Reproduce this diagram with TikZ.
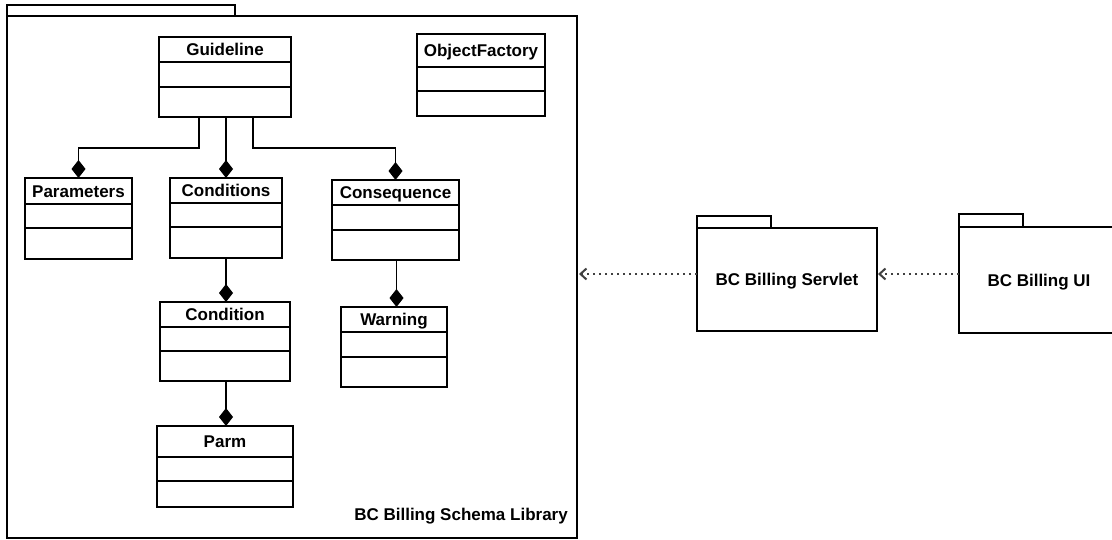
\documentclass[tikz,border=0pt]{standalone}
\usepackage{fontspec}
\setmainfont{Liberation Sans}
\usetikzlibrary{arrows.meta,calc}
\tikzset{
  boxline/.style={line width=2.2pt, draw=black},
  classbox/.style={boxline, rectangle, inner sep=0pt, outer sep=0pt, anchor=north west},
  ctitle/.style={font=\fontsize{17}{20}\selectfont\bfseries, inner sep=0pt, text height=12.2pt, text depth=0pt},
  comp/.style={line width=1.1pt, draw=black, -{Diamond[length=18pt,width=14pt]}},
  dep/.style={line width=2pt, draw=black!75, dash pattern=on 2pt off 4pt, -{Straight Barb[length=6pt,width=11pt,line width=2pt]}},
}
\newcommand\umlclass[8]{%
  \node[classbox, minimum width={(#4-#2)*1pt}, minimum height={(#5-#3)*1pt}] (#1) at (#2,#3) {};
  \node[ctitle] (#1-title) at ({(#2+#4)/2},{(#3+#6)/2}) {#8};
  \draw[boxline] (#2,#6) -- (#4,#6);
  \draw[boxline] (#2,#7) -- (#4,#7);
}
\begin{document}
\begin{tikzpicture}[x=1pt,y=-1pt]
\useasboundingbox (0,0) rectangle (1112,540);
\fill[white] (0,0) rectangle (1112,540);

% library package
\draw[boxline] (7,16) -- (7,5) -- (235,5) -- (235,16);
\node[classbox, minimum width=570pt, minimum height=522pt] (lib) at (7,16) {};
\node[ctitle, anchor=east] (libname) at (568,514.5) {BC Billing Schema Library};

% classes
\umlclass{guide}{159}{37}{291}{117}{62}{87}{Guideline}
\umlclass{objf}{417}{34}{545}{116}{67}{91}{ObjectFactory}
\umlclass{params}{25}{178}{132}{259}{204}{228}{Parameters}
\umlclass{conds}{170}{178}{282}{258}{203}{227}{Conditions}
\umlclass{conseq}{332}{180}{459}{260}{205}{230}{Consequence}
\umlclass{cond}{160}{302}{290}{381}{327}{351}{Condition}
\umlclass{warn}{341}{307}{447}{387}{332}{357}{Warning}
\umlclass{parm}{157}{426}{293}{507}{457}{481}{Parm}

% compositions
\draw[comp] ([xshift=-26pt]guide.south) -- ++(0,31) -| (params.north);
\draw[comp] (guide.south -| conds.north) -- (conds.north);
\draw[comp] ([xshift=28pt]guide.south) -- ++(0,31) -| (conseq.north);
\draw[comp] (conds.south) -- (conds.south |- cond.north);
\draw[comp] ([xshift=1pt]conseq.south) -- ([xshift=1pt]conseq.south |- warn.north);
\draw[comp] ([xshift=1pt]cond.south) -- ([xshift=1pt]cond.south |- parm.north);

% servlet package
\draw[boxline] (697,228) -- (697,216) -- (771,216) -- (771,228);
\node[classbox, minimum width=180pt, minimum height=103pt] (servlet) at (697,228) {};
\node[ctitle] (servletname) at (787,279.5) {BC Billing Servlet};

% UI package
\begin{scope}
\clip (0,0) rectangle (1112,540);
\draw[boxline] (959,227) -- (959,214) -- (1023,214) -- (1023,227);
\node[classbox, minimum width=162pt, minimum height=106pt] (ui) at (959,227) {};
\end{scope}
\node[ctitle] (uiname) at (1039,280) {BC Billing UI};

% dependencies
\coordinate (d1) at ([yshift=5.5pt]servlet.west);
\draw[dep, shorten >=2pt] (d1) -- (d1 -| lib.east);
\coordinate (d2) at ([yshift=6pt]ui.west);
\draw[dep, shorten >=1pt] (d2) -- (d2 -| servlet.east);
\end{tikzpicture}
\end{document}
